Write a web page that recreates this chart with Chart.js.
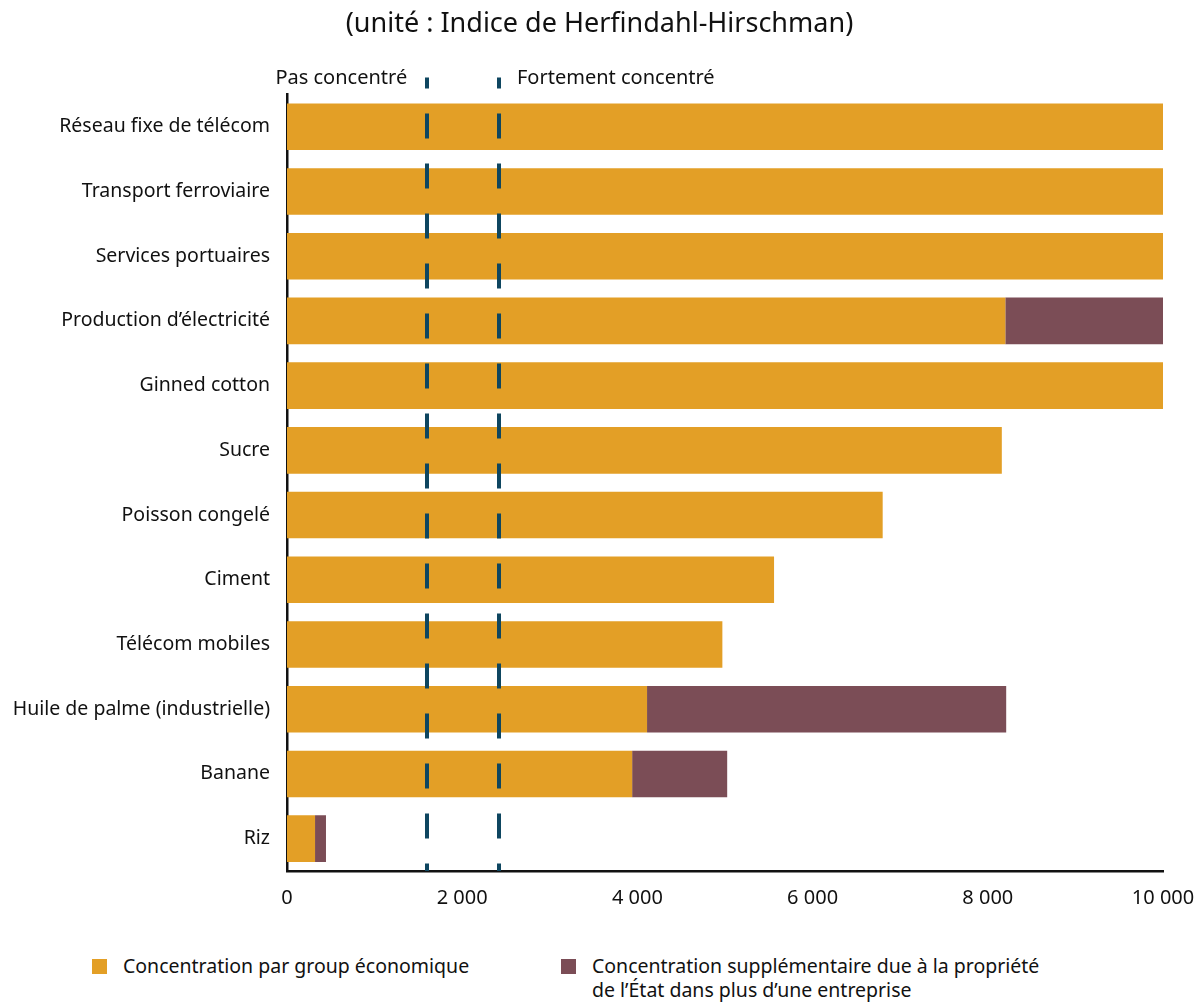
<!DOCTYPE html>
<html lang="fr">
<head>
<meta charset="utf-8">
<title>Indice de Herfindahl-Hirschman</title>
<script src="https://cdn.jsdelivr.net/npm/chart.js@4/dist/chart.umd.min.js"></script>
<style>
  body { margin: 0; background: #fff; font-family: "Noto Sans", sans-serif; color: #111; }
  #wrap { position: relative; width: 1199px; height: 1002px; }
  #legend { position: absolute; left: 0; top: 954px; width: 1199px; font-size: 19.5px; line-height: 24px; }
  .item { position: absolute; top: 0; }
  .box { position: absolute; left: 0; top: 5px; width: 15px; height: 15px; }
  .txt { position: absolute; left: 31px; top: 0; white-space: nowrap; }
</style>
</head>
<body>
<div id="wrap">
  <canvas id="myChart" width="1199" height="940"></canvas>
  <div id="legend"></div>
</div>
<script>
'use strict';

// secteurs, du haut vers le bas
const categories = [
  'Réseau fixe de télécom',
  'Transport ferroviaire',
  'Services portuaires',
  'Production d\u2019électricité',
  'Ginned cotton',
  'Sucre',
  'Poisson congelé',
  'Ciment',
  'Télécom mobiles',
  'Huile de palme (industrielle)',
  'Banane',
  'Riz'
];

// concentration par groupe économique
const groupValues = [10000, 10000, 10000, 8200, 10000, 8160, 6800, 5560, 4970, 4110, 3940, 320];

// surplus dû à la propriété de l'État
const stateValues = [0, 0, 0, 1800, 0, 0, 0, 0, 0, 4100, 1085, 125];

const xTicks = [0, 2000, 4000, 6000, 8000, 10000];

// seuils de concentration (lignes en tirets)
const thresholds = [1600, 2420];
const thresholdLabels = ['Pas concentré', 'Fortement concentré'];

const seriesLabels = [
  'Concentration par group économique',
  ['Concentration supplémentaire due à la propriété', 'de l\u2019État dans plus d\u2019une entreprise']
];
const seriesColors = ['#E39F26', '#7B4D56'];

const FONT = '"Noto Sans", sans-serif';

//thresholds plugin
const thresholdLines = {
  id: 'thresholdLines',
  afterDatasetsDraw(chart) {
    let ctx = chart.ctx;
    let area = chart.chartArea;
    let xs = chart.scales.x;
    let yTop = area.top - 17;
    ctx.save();
    ctx.strokeStyle = '#0E4660';
    ctx.lineWidth = 4;
    ctx.setLineDash([25, 25]);
    ctx.lineDashOffset = 14;
    for (let i = 0; i < thresholds.length; i++) {
      let x = Math.round(xs.getPixelForValue(thresholds[i]));
      ctx.beginPath();
      ctx.moveTo(x, yTop);
      ctx.lineTo(x, area.bottom);
      ctx.stroke();
    }
    ctx.setLineDash([]);
    ctx.fillStyle = '#111';
    ctx.font = '20px ' + FONT;
    ctx.textBaseline = 'middle';
    let x1 = xs.getPixelForValue(thresholds[0]);
    let x2 = xs.getPixelForValue(thresholds[1]);
    ctx.textAlign = 'right';
    ctx.fillText(thresholdLabels[0], x1 - 20, yTop + 1);
    ctx.textAlign = 'left';
    ctx.fillText(thresholdLabels[1], x2 + 18, yTop + 1);
    ctx.restore();
  }
};

//data
let data = {
  labels: categories,
  datasets: [{
    label: seriesLabels[0],
    data: groupValues,
    backgroundColor: seriesColors[0],
    borderWidth: 0
  }, {
    label: seriesLabels[1],
    data: stateValues,
    backgroundColor: seriesColors[1],
    borderWidth: 0
  }]
};

//config
const config = {
  type: 'bar',
  data,
  options: {
    indexAxis: 'y',
    responsive: false,
    animation: false,
    categoryPercentage: 0.72,
    barPercentage: 1,
    layout: { padding: 0 },
    plugins: {
      legend: { display: false },
      tooltip: { enabled: false },
      title: {
        display: true,
        text: '(unité : Indice de Herfindahl-Hirschman)',
        color: '#111',
        font: { family: FONT, size: 27, weight: 'normal' },
        padding: { top: 8, bottom: 54 }
      }
    },
    scales: {
      x: {
        stacked: true,
        min: 0,
        max: 10000,
        afterBuildTicks: s => { s.ticks = xTicks.map(v => ({ value: v })); },
        afterFit: s => {
          s.height = 69;
          s.paddingLeft = 0;
          s.paddingRight = 36;
        },
        grid: { display: false, drawTicks: false },
        border: { display: true, color: '#111', width: 2.5 },
        ticks: {
          color: '#111',
          padding: 15,
          maxRotation: 0,
          font: { family: FONT, size: 20 },
          callback: v => String(v).replace(/\B(?=(\d{3})+(?!\d))/g, ' ')
        }
      },
      y: {
        stacked: true,
        afterFit: s => { s.width = 287; },
        grid: { display: false, drawTicks: false },
        border: { display: true, color: '#111', width: 2.5 },
        ticks: {
          color: '#111',
          padding: 17,
          autoSkip: false,
          font: { family: FONT, size: 19.5 }
        }
      }
    }
  },
  plugins: [thresholdLines]
};

let myChart = new Chart(document.getElementById('myChart'), config);

//legend
let legendDiv = document.getElementById('legend');
let legendLeft = [92, 561];
for (let i = 0; i < data.datasets.length; i++) {
  let item = document.createElement('div');
  item.className = 'item';
  item.style.left = legendLeft[i] + 'px';
  let box = document.createElement('span');
  box.className = 'box';
  box.style.background = data.datasets[i].backgroundColor;
  item.appendChild(box);
  let txt = document.createElement('span');
  txt.className = 'txt';
  let lbl = data.datasets[i].label;
  let lines = Array.isArray(lbl) ? lbl : [lbl];
  for (let j = 0; j < lines.length; j++) {
    if (j > 0) txt.appendChild(document.createElement('br'));
    txt.appendChild(document.createTextNode(lines[j]));
  }
  item.appendChild(txt);
  legendDiv.appendChild(item);
}
</script>
</body>
</html>
